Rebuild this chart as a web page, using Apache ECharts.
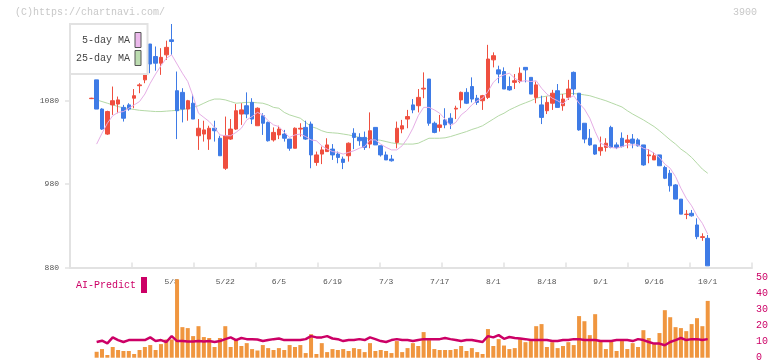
<!DOCTYPE html>
<html>
<head>
<meta charset="utf-8">
<script src="https://cdn.jsdelivr.net/npm/echarts/dist/echarts.min.js"></script>
<style>
html,body{margin:0;padding:0;background:#fff;}
#c{width:772px;height:361px;}
</style>
</head>
<body>
<div id="c"></div>
<script>
// ---- categories (trading days) ----
const dates = [
 '4/14','4/15','4/16','4/17','4/18','4/21','4/22','4/23','4/24','4/25','4/28','4/30',
 '5/1','5/2','5/7','5/8','5/9','5/12','5/13','5/14','5/15','5/16','5/19','5/20','5/21','5/22','5/23','5/26','5/27','5/28','5/29','5/30',
 '6/2','6/3','6/4','6/5','6/6','6/9','6/10','6/11','6/12','6/13','6/16','6/17','6/18','6/19','6/20','6/23','6/24','6/25','6/26','6/27','6/30',
 '7/1','7/2','7/3','7/4','7/7','7/8','7/9','7/10','7/11','7/14','7/15','7/16','7/17','7/18','7/22','7/23','7/24','7/25','7/28','7/29','7/30','7/31',
 '8/1','8/4','8/5','8/6','8/7','8/8','8/12','8/13','8/14','8/15','8/18','8/19','8/20','8/21','8/22','8/25','8/26','8/27','8/28','8/29',
 '9/1','9/2','9/3','9/4','9/5','9/8','9/9','9/10','9/11','9/12','9/16','9/17','9/18','9/19','9/22','9/24','9/25','9/26','9/29','9/30',
 '10/1'
];
const tickLabels = ['5/8','5/22','6/5','6/19','7/3','7/17','8/1','8/18','9/1','9/16','10/1'];
const priceTicks = [880, 980, 1080];
const volumeTicks = [0, 10, 20, 30, 40, 50];

// ---- OHLC ----
const opens = [
 1082.5,1105,1070,1040,1075,1076,1072,1075,1083,1098,
 1105,1148,1133,1125,1135,1153,1092,1090,1070,1077,
 1038,1040,1034,1047,1035,999,1034,1046,1064,1074,
 1078,1050,1062,1054,1033,1039,1040,1034,1023,1046,
 1048,1052,1006,1016,1019,1022,1016,1010,1014,1041,
 1036,1036,1028,1048,1026,1015,1010,1030,1046,1058,
 1075,1074,1094,1106,1053,1048,1057,1059,1070,1081,
 1090,1097,1083,1080,1084,1129,1117,1115,1097,1102,
 1103,1120,1108,1084,1075,1068,1077,1092,1074,1084,
 1114,1089,1053,1035,1027,1020,1024,1048,1027,1035,
 1030,1034,1033,1027,1014,1009,1015,1000,993,979,
 962,943.5,945,931,916,915
];
const closes = [
 1083,1070,1046,1067,1080,1081,1059,1070,1086,1099,
 1128,1124,1125,1132,1144,1151,1068,1070,1080,1058,
 1047,1045,1047,1044,1014,1038,1046,1068,1069,1064,
 1058,1071,1053,1032,1042,1046,1035,1023,1047,1047,
 1034,1015,1015,1021,1027,1015,1012,1006,1029,1036,
 1032,1024,1044,1027,1015,1009,1008,1047,1050,1061,
 1069,1084,1095,1053,1042,1051,1051,1053,1071,1090,
 1077,1082,1078,1086,1130,1134,1112,1094,1093,1104,
 1113,1117,1088,1099,1060,1078,1089,1072,1082,1094,
 1094,1045,1034,1027,1016,1024,1029,1024,1024,1025,
 1033,1029,1026,1003,1015,1014,1002,987,978,962,
 944,944,942,917,917,882
];
const lows = [
 1082,1070,1045,1039,1063,1065,1055,1068,1071,1089,
 1101,1113,1116,1111,1129,1135,1034,1054,1056,1058,
 1021,1031,1021,1031,1014,997,1033,1045,1051,1059,
 1052,1050,1039,1031,1031,1034,1031,1020,1023,1037,
 1033,999,1002,1004,1019,1009,1005,998,1007,1022,
 1026,1021,1023,1027,1013,1009,1007,1023,1041,1047,
 1065,1066,1083,1050,1041,1043,1047,1046,1058,1071,
 1076,1078,1075,1069,1082,1120,1101,1094,1092,1094,
 1101,1102,1088,1077,1052,1064,1069,1072,1068,1081,
 1087,1044,1029,1026,1015,1014,1019,1023,1022,1024,
 1023,1023,1025,1002,1005,1009,1002,986,971,962,
 944,938,941,914,912,882
];
const highs = [
 1083.5,1105,1071,1068,1097,1085,1075,1077,1094,1101,
 1129,1148,1145,1143,1152,1172,1115,1095,1081,1088,
 1058,1056,1050,1056,1038,1061,1058,1076,1077,1090,
 1083,1072,1065,1055,1048,1050,1045,1034,1048,1053,
 1056,1055,1019,1025,1035,1028,1019,1013,1030,1047,
 1041,1043,1066,1048,1026,1019,1015,1055,1057,1069,
 1082,1094,1114,1106,1055,1063,1071,1065,1074,1091,
 1095,1108,1087,1087,1147,1138,1122,1120,1109,1112,
 1120,1120,1108,1103,1086,1085,1093,1100,1088,1105,
 1115,1089,1053,1046,1027,1037,1035,1050,1030,1042,
 1039,1040,1035,1027,1022,1018,1015,1002,997,980,
 962,949,949,939,921,919
];

// ---- moving averages ----
const ma5 = [
 null,1028,1041,1053,1062,1066,
 1067,1071,1075,1079,1088,1101,1112,1122,1131,1135,
 1124,1113,1103,1085,1065,1060,1055,1048,1039,1038,
 1038,1042,1047,1057,1061,1066,1063,1056,1051,1049,
 1042,1036,1039,1040,1037,1033,1032,1026,1022,1019,
 1018,1016,1018,1020,1023,1025,1033,1033,1028,1024,
 1021,1021,1026,1035,1047,1062,1072,1072,1069,1065,
 1058,1050,1054,1063,1068,1075,1080,1083,1091,1102,
 1108,1111,1113,1107,1103,1104,1103,1104,1095,1088,
 1083,1080,1076,1083,1086,1077,1070,1059,1043,1029,
 1026,1024,1023,1025,1027,1027,1027,1023,1021,1017,
 1012,1004,999,989,975,963,954,942,933,920
];
const ma25 = [
 null,1081,1079,1077,1075,1073,1071.5,1070.5,1069.5,1068.5,
 1068,1067.5,1067,1067,1067.5,1068,1068.5,1069.5,1070.5,1072,
 1074,1077,1080,1082,1082,1081,1079,1077,1077.5,1078,
 1078,1077.5,1077,1075,1072,1071,1066,1063,1061,1059,
 1054,1049,1047,1044,1042,1041.5,1041,1040,1039,1037.5,
 1036,1035,1034,1033.5,1032.5,1031,1029.5,1028.5,1028,1028,
 1028,1029,1032,1035,1035,1035,1035.5,1037,1039,1041,
 1043,1045.5,1047.5,1050,1054,1058,1062,1065,1069,1072,
 1075,1077.5,1080,1083,1084.5,1085.5,1087,1087.5,1088,1089,
 1088.5,1088,1087,1086,1084,1082,1080,1077.5,1075,1072.5,
 1068,1064,1060.5,1057,1053,1049,1044,1038.5,1033,1028,
 1022,1017.5,1012,1005,998,993
];

// ---- lower panel ----
const volume = [
 null,3.7,5.4,1.7,6.7,4.8,4.2,4.2,2.3,4.8,
 6.7,7.9,4.8,8.5,11.4,11.4,49,19.1,18.5,13.5,
 19.7,12.9,12.3,6.7,12.3,19.7,6.7,11.6,7.3,9.1,
 5.4,4.5,7.9,6.0,4.8,6.0,4.8,7.9,6.7,7.9,
 2.9,14.7,2.3,9.1,3.5,5.4,4.8,5.4,4.2,6.0,
 5.4,3.5,9.1,4.2,4.8,4.2,2.9,10.4,3.5,6.0,
 9.1,7.3,16,11,5.4,4.8,4.8,4.8,5.4,7.3,
 4.2,6.0,3.5,2.3,17.9,7.3,11.6,7.6,5.4,6.0,
 11.6,9.7,10.4,19.7,21,6.7,9.7,6.0,7.3,9.7,
 7.9,26,22.8,14.1,27.2,10.4,5.4,11,4.2,10.4,
 5.4,9.1,6.7,17.2,12.3,8.5,15.4,29.7,25.3,19.1,
 18.5,16.6,21,24.7,19.7,35.5
];
const aiPredict = [
 null,9.8,10.6,9.0,12.7,11,9.8,11,11,11,
 11,12.7,10.4,11,9.8,13.5,10.4,10.4,10.2,10.2,
 10.4,10.2,10.4,9.8,10.4,11.6,12.7,11,12.3,11.6,
 11.5,11.4,10.4,11,11.6,12,11,11,11,11,
 11.6,13.5,12.7,12.7,13.5,12,11.6,10.4,11,11,
 11.6,11,12.7,11.6,10.4,9.8,11,11.6,11,11,
 10.4,11,11.6,11.6,11.6,11.6,12.3,11.6,11,10.4,
 11,11,10.4,9.8,13.5,12.7,14.1,11.8,12.9,12.3,
 12,11.6,11,11,11,11,10.4,10.4,11,11,
 11.6,11.6,11,11,11,10.4,10.4,10.4,11,11,
 11,10.4,11.6,11,9.8,8.8,8.8,7.8,9.8,11,
 12.3,11,11.6,11.6,11,11.6
];

const ohlc = opens.map((o, i) => [o, closes[i], lows[i], highs[i]]);

const MONO = '"Liberation Mono","DejaVu Sans Mono",monospace';
const UP = '#ef4f3f', DOWN = '#3e7be6';
const AXIS = '#e2e2e2';

const chart = echarts.init(document.getElementById('c'), null, {renderer: 'canvas'});
chart.setOption({
  animation: false,
  backgroundColor: '#fff',
  grid: [
    {left: 88.6, right: 61.6, top: 24, bottom: 93.5, containLabel: false, outerBoundsMode: 'none'},
    {left: 70, right: 20, top: 24, bottom: 93.5, containLabel: false, outerBoundsMode: 'none'},
    {left: 88.6, right: 61.6, top: 277.7, bottom: 3.3, containLabel: false, outerBoundsMode: 'none'}
  ],
  xAxis: [
    {type: 'category', gridIndex: 0, data: dates, boundaryGap: true,
     axisLine: {show: false}, axisTick: {show: false}, splitLine: {show: false},
     axisLabel: {interval: function (idx) { return tickLabels.indexOf(dates[idx]) >= 0; },
       margin: 10, fontFamily: MONO, fontSize: 8, color: '#555', hideOverlap: false}},
    {type: 'value', gridIndex: 1, min: 0, max: 11, interval: 1,
     axisLine: {show: true, lineStyle: {color: AXIS, width: 2}},
     axisTick: {show: true, inside: true, length: 5, lineStyle: {color: AXIS, width: 1.5}},
     axisLabel: {show: false}, splitLine: {show: false}},
    {type: 'category', gridIndex: 2, data: dates, boundaryGap: true, show: false}
  ],
  yAxis: [
    {type: 'value', gridIndex: 0, min: 880, max: 1172, show: false, splitLine: {show: false}},
    {type: 'value', gridIndex: 1, min: 880, max: 1172,
     axisLine: {show: true, lineStyle: {color: AXIS, width: 2}},
     axisTick: {show: true, length: 5, customValues: priceTicks, lineStyle: {color: AXIS, width: 1.5}},
     axisLabel: {customValues: priceTicks, margin: 11, fontFamily: MONO, fontSize: 8, color: '#555',
       formatter: function (v) { return String(Math.round(v)); }},
     splitLine: {show: false}},
    {type: 'value', gridIndex: 2, min: 0, max: 50, interval: 10, position: 'right', offset: 41.6,
     axisLine: {show: false}, axisTick: {show: false}, splitLine: {show: false},
     axisLabel: {customValues: volumeTicks, margin: 4, fontFamily: MONO, fontSize: 10, color: '#cc0066',
       formatter: function (v) { return String(Math.round(v)); }}}
  ],
  legend: [
    {data: [
       {name: '5-day MA', icon: 'rect', itemStyle: {color: '#ebb9eb', borderColor: '#555', borderWidth: 1}},
       {name: '25-day MA', icon: 'rect', itemStyle: {color: '#bcdcb0', borderColor: '#555', borderWidth: 1}}
     ],
     orient: 'vertical', align: 'right', left: 70, top: 24,
     itemWidth: 6, itemHeight: 15, itemGap: 2, padding: [8, 6, 8, 6],
     backgroundColor: '#fff', borderColor: AXIS, borderWidth: 2, selectedMode: false,
     textStyle: {fontFamily: MONO, fontSize: 10, color: '#444'}},
    {data: [{name: 'AI-Predict', icon: 'rect', itemStyle: {color: '#cc0066'}}],
     orient: 'vertical', align: 'right', left: 76, top: 277, padding: 0,
     itemWidth: 6, itemHeight: 16, selectedMode: false,
     textStyle: {fontFamily: MONO, fontSize: 10, color: '#cc0066'}}
  ],
  graphic: [
    {type: 'text', left: 15, top: 7, style: {text: '(C)https://chartnavi.com/', font: '10px ' + MONO, fill: '#c8c8c8'}},
    {type: 'text', right: 15, top: 7, style: {text: '3900', font: '10px ' + MONO, fill: '#c8c8c8'}}
  ],
  series: [
    {name: 'price', type: 'candlestick', xAxisIndex: 0, yAxisIndex: 0, data: ohlc, barWidth: 4,
     itemStyle: {color: UP, color0: DOWN, borderColor: UP, borderColor0: DOWN, borderWidth: 1}},
    {name: '5-day MA', type: 'line', xAxisIndex: 0, yAxisIndex: 0, data: ma5, showSymbol: false,
     lineStyle: {color: '#e6aee6', width: 1}, itemStyle: {color: '#ebb9eb'}, z: 3},
    {name: '25-day MA', type: 'line', xAxisIndex: 0, yAxisIndex: 0, data: ma25, showSymbol: false,
     lineStyle: {color: '#b4d9a6', width: 1}, itemStyle: {color: '#bcdcb0'}, z: 1},
    {name: 'volume', type: 'bar', xAxisIndex: 2, yAxisIndex: 2, data: volume, barWidth: 4,
     itemStyle: {color: '#f0963f'}},
    {name: 'AI-Predict', type: 'line', xAxisIndex: 2, yAxisIndex: 2, data: aiPredict, showSymbol: false,
     lineStyle: {color: '#cc0066', width: 2.5}, itemStyle: {color: '#cc0066'}, z: 4}
  ]
});
</script>
</body>
</html>
